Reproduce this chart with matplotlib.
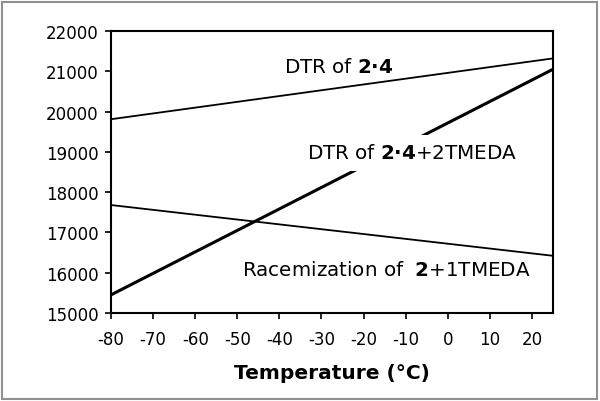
import matplotlib.pyplot as plt
from matplotlib.patches import Rectangle

# temperatures (°C) and energies
temp = [-80, 25]
dtr_24 = [19810, 21320]
dtr_24_tmeda = [15450, 21050]
racem_2_tmeda = [17680, 16420]

xticks = list(range(-80, 21, 10))
yticks = list(range(15000, 22001, 1000))

plt.rcParams['font.family'] = ['DejaVu Sans']
plt.rcParams['mathtext.fontset'] = 'dejavusans'
plt.rcParams['axes.unicode_minus'] = False

fig = plt.figure(figsize=(6.0, 4.02), dpi=100)
ax = fig.add_axes([111 / 600, 1 - 314 / 402, 442 / 600, 282 / 402])

ax.plot(temp, dtr_24, color='black', lw=1.3, zorder=2)
ax.plot(temp, dtr_24_tmeda, color='black', lw=2.2, zorder=2)
ax.plot(temp, racem_2_tmeda, color='black', lw=1.3, zorder=2)

ax.set_xlim(-80, 25)
ax.set_ylim(15000, 22000)
ax.set_xticks(xticks)
ax.set_yticks(yticks)
ax.tick_params(direction='out', length=4, width=1.2, labelsize=12)
ax.tick_params(axis='x', pad=8)
ax.tick_params(axis='y', pad=5)
for s in ax.spines.values():
    s.set_linewidth(1.5)

ax.set_xlabel('Temperature (°C)', fontsize=14.5, fontweight='bold', labelpad=11)

ax.text(-26, 21110, r'DTR of $\mathbf{2·4}$', fontsize=14.3, ha='center', va='center')
ax.text(-8.5, 18980, r'DTR of $\mathbf{2·4}$+2TMEDA', fontsize=14.3, ha='center', va='center',
        bbox=dict(facecolor='white', edgecolor='none', pad=6), zorder=3)
ax.text(-14.5, 16090, r'Racemization of  $\mathbf{2}$+1TMEDA', fontsize=14.3, ha='center', va='center')

# outer grey frame
fig.patches.append(Rectangle((2 / 600, 2 / 402), 595 / 600, 397 / 402, transform=fig.transFigure,
                             fill=False, edgecolor='#909090', lw=1.5))

fig.savefig('out.png', dpi=100)
